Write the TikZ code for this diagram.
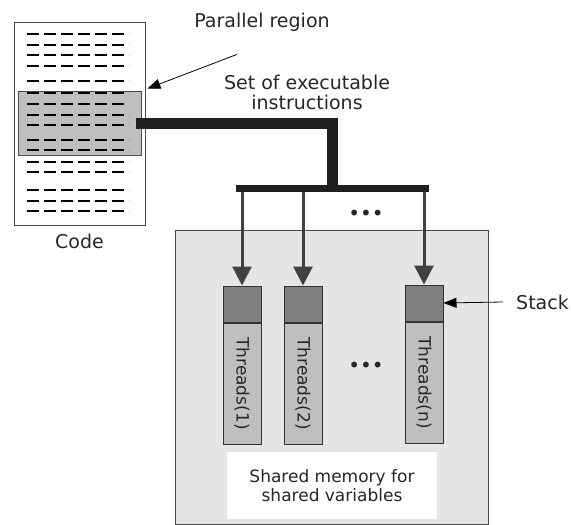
\documentclass[tikz,border=0pt]{standalone}
\usepackage{fontspec}
\setmainfont{DejaVu Sans}
\usetikzlibrary{positioning,arrows.meta}

\begin{document}
\begin{tikzpicture}[x=1pt,y=-1pt,
  lbl/.style={font=\fontsize{19}{20}\selectfont, text=black!85, inner sep=0},
  ptr/.style={-{Triangle[length=13pt,width=10pt]}, line width=0.8pt},
  bar/.style={line width=11pt, draw=black!88, line join=miter},
  fork/.style={-{Triangle[length=19pt,width=19pt]}, line width=3pt, draw=black!75},
  stackbox/.style={draw=black!80, line width=1pt, fill=black!50, minimum width=38pt, minimum height=36pt, inner sep=0},
  threadbox/.style={draw=black!80, line width=1pt, fill=black!25, rotate=-90, minimum width=121pt,
    minimum height=38pt, inner sep=0, text=black!85, font=\fontsize{17}{20}\selectfont},
  dots/.style={font=\fontsize{20}{22}\selectfont, text=black!85, inner sep=0}]
  \useasboundingbox (0,0) rectangle (571,525);
  % code listing with the parallel region
  \node[draw=black!70, line width=1pt, minimum width=131pt, minimum height=203pt, inner sep=0] (code) at (79.5,123.5) {};
  \node[draw=black!70, fill=black!25, line width=0.8pt, minimum width=123pt, minimum height=64pt, inner sep=0] (par) at (79.5,123) {};
  \foreach \y in {34,45,55,66,81,93,104,115,125,140,150,162,172,190,201,211}{
    \draw[line width=1.8pt, dash pattern=on 12pt off 5pt] (27,\y) -- (129,\y);
  }
  \node[lbl, below=8pt of code] (codelbl) {Code};
  \node[lbl] (prl) at (262,22) {Parallel region};
  \draw[ptr] ([xshift=-25pt,yshift=-23pt]prl.south) -- ([xshift=6pt,yshift=2pt]par.north east);
  \node[lbl, align=center] (set) at (307,92) {Set of executable\\instructions};
  % fork bar
  \node[fill=black!88, minimum width=193pt, minimum height=7pt, inner sep=0] (bus) at (332.5,188.5) {};
  \draw[bar] ([xshift=-5pt]par.east) -| (bus.north);
  % shared memory and threads
  \node[draw=black!70, fill=black!10, line width=1pt, minimum width=313pt, minimum height=294pt, inner sep=0] (shm) at (331.5,377) {};
  \node[stackbox] (s1) at (242,304) {};
  \node[stackbox] (s2) at (303,304) {};
  \node[stackbox] (sn) at (424,303) {};
  \node[threadbox, anchor=west] (t1) at (s1.south) {Threads(1)};
  \node[threadbox, anchor=west] (t2) at (s2.south) {Threads(2)};
  \node[threadbox, anchor=west] (tn) at (sn.south) {Threads(n)};
  \foreach \s in {s1,s2,sn}{
    \draw[fork] (\s |- bus.south) -- (\s.north);
  }
  \node[dots] (d1) at (366,215) {•••};
  \node[dots] (d2) at (366,367) {•••};
  \node[lbl, anchor=west] (stk) at (516,302) {Stack};
  \draw[ptr] ([xshift=-13pt]stk.west) -- (sn.east);
  \node[fill=white, minimum width=210pt, minimum height=67pt, align=center, inner sep=0, text=black!85,
    font=\fontsize{17}{19}\selectfont] (note) at (332,485.5) {Shared memory for\\shared variables};
\end{tikzpicture}
\end{document}
